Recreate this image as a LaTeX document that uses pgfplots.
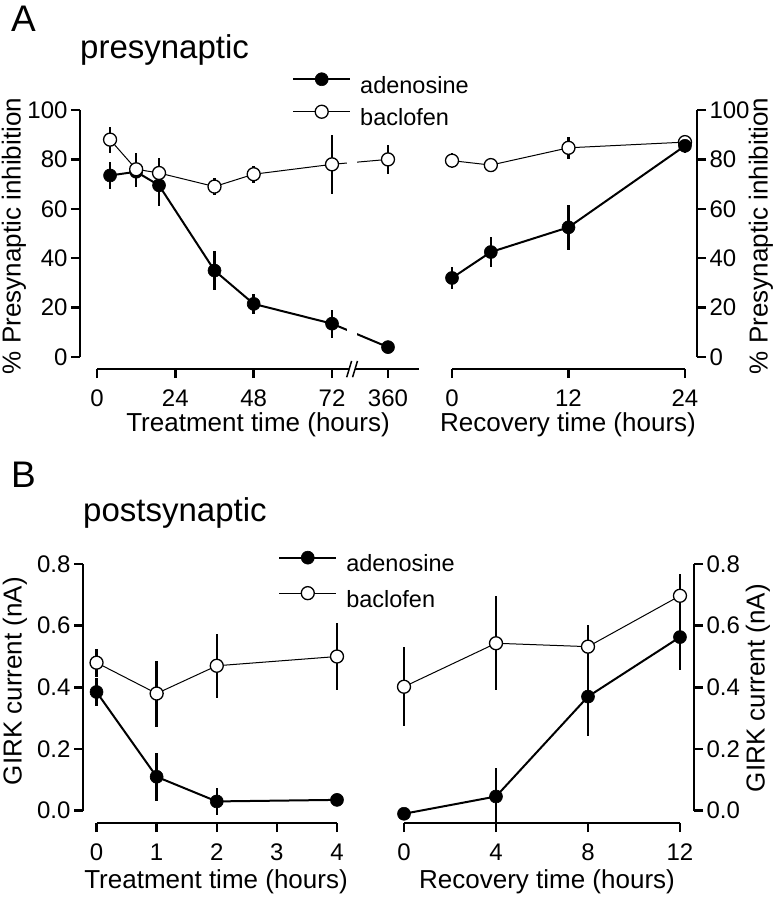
\documentclass[border=0pt]{standalone}
\usepackage{fontspec}
\setmainfont{Liberation Sans}
\usepackage{pgfplots}
\pgfplotsset{compat=1.18}

\pgfplotsset{
  panel/.style={scale only axis, clip=false, enlargelimits=false,
    axis line style={draw=none}, tick align=outside, major tick length=9pt,
    tick style={line width=2.5pt, black}, xtick pos=bottom,
    tick label style={font=\fontsize{24}{24}\selectfont},
    xticklabel style={yshift=-8pt},
    legend cell align=left},
  aden/.style={black, line width=2pt, mark=*, mark size=6.5pt,
    mark options={solid, fill=black, line width=0.6pt},
    error bars/y dir=both, error bars/y explicit, error bars/error mark=none,
    error bars/error bar style={line width=2.5pt, solid}},
  bacl/.style={black, line width=1pt, mark=*, mark size=6.5pt,
    mark options={solid, fill=white, line width=1.3pt},
    error bars/y dir=both, error bars/y explicit, error bars/error mark=none,
    error bars/error bar style={line width=2.5pt, solid}},
  leg/.style={legend style={draw=none, fill=none, inner sep=0pt,
      nodes={inner sep=1pt, text height=17pt, text depth=5pt},
      font=\fontsize{23.5}{26}\selectfont, row sep=#1, column sep=8pt},
    legend image code/.code={
      \draw[mark repeat=2, mark phase=2, ##1]
      plot coordinates {(0pt,8pt) (28.5pt,8pt) (57pt,8pt)};}},
}

\begin{document}
\begin{tikzpicture}
\useasboundingbox (0,0) rectangle (777pt,-900pt);

% ---------- A: treatment (360 h is drawn at 89.15 on the broken axis)
\begin{axis}[panel, leg=6pt, at={(80pt,-369pt)}, anchor=south west,
  width=339pt, height=259pt, xmin=-5.21, xmax=98.65, ymin=-4.86, ymax=100,
  xtick={0,24,48,72,89.15}, xticklabels={0,24,48,72,360},
  ytick={0,20,40,60,80,100}, yticklabels={0,20,40,60,80,100}, ytick pos=left,
  legend style={at={(0.6254,1.030)}, anchor=west}]
\addplot[aden] table[x=x, y=y, y error=e] {
x y e
4 73.5 5.5
12 75 6
19 69.5 8.5
36 35 7.8
48 21.5 3.9
72 13.5 5.7
89.15 4 1.5
};
\addlegendentry{adenosine}
\addplot[bacl] table[x=x, y=y, y error=e] {
x y e
4 88 5.3
12 76 6.5
19 74.5 6
36 69 3.5
48 74 3.5
72 78 12
89.15 80 5.8
};
\addlegendentry{baclofen}
\fill[white] (axis cs:76.6,1) rectangle (axis cs:79.65,90);
\draw[line width=2.5pt] (axis cs:-5.21,0) -- (axis cs:-5.21,100);
\draw[line width=2.5pt] (axis cs:0,-4.86) -- (axis cs:98.65,-4.86);
\fill[white] (axis cs:76.5,-8.2) -- (axis cs:78.0,-1.6) -- (axis cs:79.8,-1.6) -- (axis cs:78.3,-8.2) -- cycle;
\draw[line width=1.5pt] (axis cs:76.5,-8.2) -- (axis cs:78.0,-1.6);
\draw[line width=1.5pt] (axis cs:78.3,-8.2) -- (axis cs:79.8,-1.6);
\end{axis}

% ---------- A: recovery
\begin{axis}[panel, at={(452pt,-369pt)}, anchor=south west,
  width=245pt, height=259pt, xmin=0, xmax=25.24, ymin=-4.86, ymax=100,
  xtick={0,12,24}, xticklabels={0,12,24},
  ytick={0,20,40,60,80,100}, yticklabels={0,20,40,60,80,100},
  ytick pos=right, yticklabel pos=right]
\addplot[bacl] table[x=x, y=y, y error=e] {
x y e
0 79.5 3
4 77.7 3
12 84.7 4.5
24 87 2.5
};
\addplot[aden] table[x=x, y=y, y error=e] {
x y e
0 32 4.5
4 42.5 6
12 52.5 9
24 85.5 3
};
\draw[line width=2.5pt] (axis cs:25.24,0) -- (axis cs:25.24,100);
\draw[line width=2.5pt] (axis cs:0,-4.86) -- (axis cs:24,-4.86);
\end{axis}

% ---------- B: treatment
\begin{axis}[panel, leg=9pt, at={(83pt,-823pt)}, anchor=south west,
  width=254pt, height=259pt, xmin=-0.225, xmax=4, ymin=-0.04, ymax=0.8,
  xtick={0,1,2,3,4}, xticklabels={0,1,2,3,4},
  ytick={0,0.2,0.4,0.6,0.8}, yticklabels={0.0,0.2,0.4,0.6,0.8}, ytick pos=left,
  legend style={at={(0.768,0.930)}, anchor=west}]
\addplot[aden] table[x=x, y=y, y error=e] {
x y e
0 0.385 0.045
1 0.11 0.077
2 0.03 0.045
4 0.035 0.01
};
\addlegendentry{adenosine}
\addplot[bacl] table[x=x, y=y, y error=e] {
x y e
0 0.48 0.045
1 0.38 0.107
2 0.47 0.104
4 0.50 0.11
};
\addlegendentry{baclofen}
\draw[line width=2.5pt] (axis cs:-0.225,0) -- (axis cs:-0.225,0.8);
\draw[line width=2.5pt] (axis cs:0,-0.04) -- (axis cs:4,-0.04);
\end{axis}

% ---------- B: recovery
\begin{axis}[panel, at={(404pt,-823pt)}, anchor=south west,
  width=290pt, height=259pt, xmin=0, xmax=12.61, ymin=-0.04, ymax=0.8,
  xtick={0,4,8,12}, xticklabels={0,4,8,12},
  ytick={0,0.2,0.4,0.6,0.8}, yticklabels={0.0,0.2,0.4,0.6,0.8},
  ytick pos=right, yticklabel pos=right]
\addplot[aden] table[x=x, y=y, y error=e] {
x y e
0 -0.01 0.01
4 0.046 0.092
8 0.37 0.127
12 0.563 0.108
};
\addplot[bacl] table[x=x, y=y, y error=e] {
x y e
0 0.402 0.128
4 0.543 0.152
8 0.532 0.07
12 0.697 0.07
};
\draw[line width=2.5pt] (axis cs:12.61,0) -- (axis cs:12.61,0.8);
\draw[line width=2.5pt] (axis cs:0,-0.04) -- (axis cs:12,-0.04);
\end{axis}

% ---------- text
\node[anchor=base west, inner sep=0pt, font=\fontsize{37}{37}\selectfont] at (11pt,-31pt) {A};
\node[anchor=base west, inner sep=0pt, font=\fontsize{37}{37}\selectfont] at (11pt,-487pt) {B};
\node[anchor=base west, inner sep=0pt, font=\fontsize{33}{33}\selectfont] at (80pt,-58pt) {presynaptic};
\node[anchor=base west, inner sep=0pt, font=\fontsize{33}{33}\selectfont] at (83pt,-521pt) {postsynaptic};
\begin{scope}[every node/.style={inner sep=0pt, font=\fontsize{26}{26}\selectfont}]
\node at (258pt,-425pt) {Treatment time (hours)};
\node at (568pt,-425pt) {Recovery time (hours)};
\node at (216pt,-882pt) {Treatment time (hours)};
\node at (547pt,-882pt) {Recovery time (hours)};
\node[rotate=90] at (14pt,-236pt) {\% Presynaptic inhibition};
\node[rotate=90] at (761pt,-236pt) {\% Presynaptic inhibition};
\node[rotate=90] at (15pt,-681pt) {GIRK current (nA)};
\node[rotate=90] at (758pt,-688pt) {GIRK current (nA)};
\end{scope}
\end{tikzpicture}
\end{document}
